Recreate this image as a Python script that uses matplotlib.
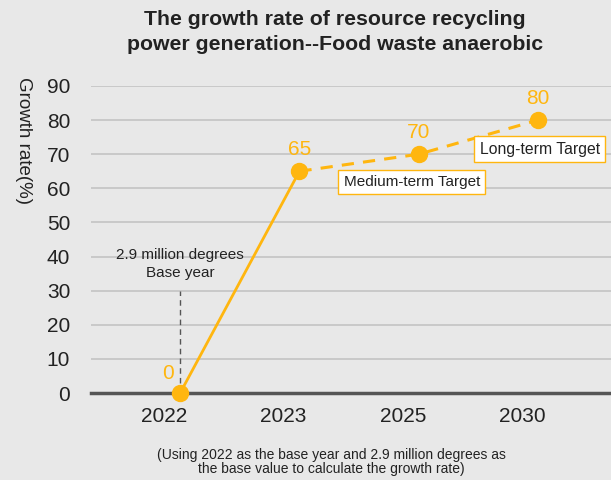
import matplotlib.pyplot as plt
import matplotlib.transforms as mtransforms

plt.rcParams['font.family'] = ['Liberation Sans', 'DejaVu Sans']

# data
years = ['2022', '2023', '2025', '2030']
growth = [0, 65, 70, 80]
targets = ['Medium-term Target', 'Long-term Target']
yticks = [0, 10, 20, 30, 40, 50, 60, 70, 80, 90]

bg = '#e8e8e8'
gold = '#FFB60F'

fig = plt.figure(figsize=(6.11, 4.80), dpi=100, facecolor=bg)
ax = fig.add_axes([0.149, 0.181, 0.851, 0.640], facecolor=bg)

x = list(range(len(years)))

# grid
for v in yticks[1:]:
    ax.axhline(v, color='#c6c6c6', lw=1.3, zorder=0)

# solid part, then dashed targets
ax.plot(x[:2], growth[:2], color=gold, lw=2, zorder=3)
ax.plot(x[1:], growth[1:], color=gold, lw=2.2, ls=(0, (4, 3)), zorder=3)
ax.plot(x, growth, 'o', color=gold, ms=11.5, zorder=4, clip_on=False)

# value labels
ax.annotate(str(growth[0]), (x[0], growth[0]), xytext=(-9, 7), textcoords='offset points',
            ha='center', va='bottom', color=gold, fontsize=15)
for xi, yi in zip(x[1:], growth[1:]):
    ax.annotate(str(yi), (xi, yi), xytext=(0, 9), textcoords='offset points',
                ha='center', va='bottom', color=gold, fontsize=15)

# target boxes
box = dict(boxstyle='square,pad=0.35', fc='white', ec=gold, lw=1)
ax.annotate(targets[0], (x[2], growth[2]), xytext=(-5, -20), textcoords='offset points',
            ha='center', va='center', fontsize=11, color='#222222', bbox=box)
ax.annotate(targets[1], (x[3], growth[3]), xytext=(1, -21), textcoords='offset points',
            ha='center', va='center', fontsize=11.3, color='#222222', bbox=box)

# base year marker
ax.plot([x[0], x[0]], [3, 30], color='#555555', lw=1, ls=(0, (4, 3)), zorder=2)
ax.text(x[0], 33, '2.9 million degrees\nBase year', ha='center', va='bottom',
        fontsize=11, color='#222222', linespacing=1.45)

ax.set_xlim(-0.746, 3.61)
ax.set_ylim(0, 90)
ax.set_yticks(yticks)
ax.set_xticks(x)
ax.set_xticklabels(years)
ax.tick_params(axis='both', length=0, labelsize=15, labelcolor='#222222')
ax.tick_params(axis='x', pad=10)
ax.tick_params(axis='y', pad=15)
shift = mtransforms.ScaledTranslation(-16 / 100, 0, fig.dpi_scale_trans)
for lab in ax.get_xticklabels():
    lab.set_transform(lab.get_transform() + shift)

for s in ['top', 'right', 'left']:
    ax.spines[s].set_visible(False)
ax.spines['bottom'].set_color('#555555')
ax.spines['bottom'].set_linewidth(2.5)
ax.spines['bottom'].set_zorder(2)

fig.text(0.038, 0.708, 'Growth rate(%)', rotation=-90, ha='center', va='center',
         fontsize=13.5, color='#222222')
fig.text(0.548, 0.98, 'The growth rate of resource recycling\npower generation--Food waste anaerobic',
         ha='center', va='top', fontsize=15.3, fontweight='bold', color='#222222',
         linespacing=1.45)
fig.text(0.543, 0.008, '(Using 2022 as the base year and 2.9 million degrees as\n'
         'the base value to calculate the growth rate)',
         ha='center', va='bottom', fontsize=10, color='#222222', linespacing=1.02)

fig.savefig('out.png', dpi=100, facecolor=bg)
